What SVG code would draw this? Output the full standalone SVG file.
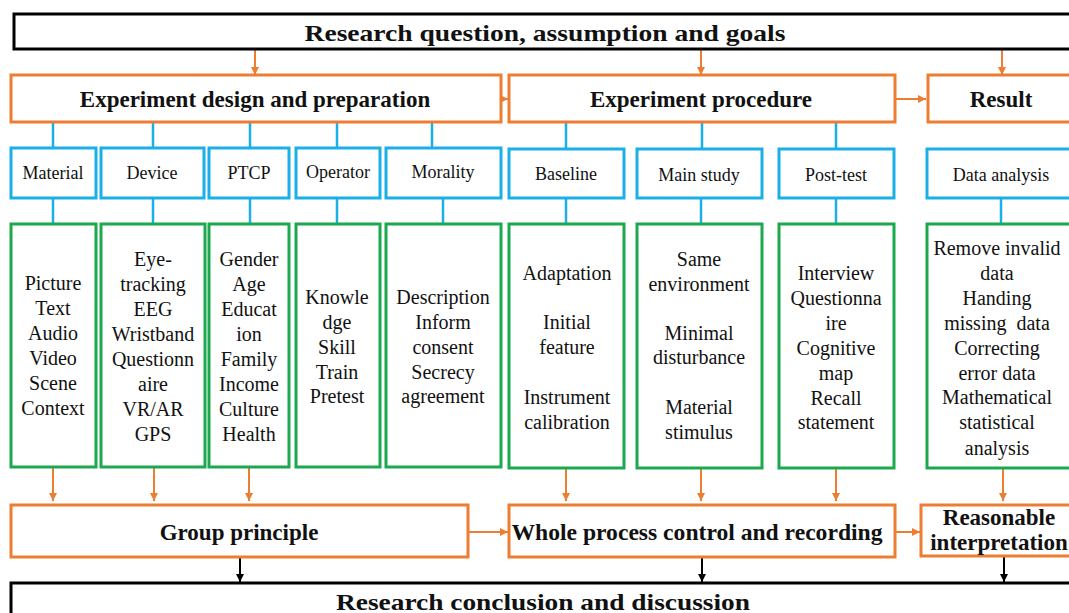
<svg xmlns="http://www.w3.org/2000/svg" width="1069" height="613" viewBox="0 0 1069 613">
<defs>
<style>
.bk{fill:#fff;stroke:#000;stroke-width:3}
.or{fill:#fff;stroke:#ED7D31;stroke-width:3}
.bl{fill:#fff;stroke:#1AAFE6;stroke-width:3}
.gr{fill:#fff;stroke:#1BA84F;stroke-width:3}
.h{font-family:"Liberation Serif","Times New Roman",serif;font-weight:bold;font-size:23px;fill:#111;text-anchor:middle}
.t{font-family:"Liberation Serif","Times New Roman",serif;font-size:20px;fill:#111;text-anchor:middle}
.s{font-family:"Liberation Serif","Times New Roman",serif;font-size:18px;fill:#111;text-anchor:middle}
.co{stroke:#ED7D31;stroke-width:2;fill:none}
.cb{stroke:#1AAFE6;stroke-width:2.5;fill:none}
.ck{stroke:#000;stroke-width:2;fill:none}
</style>
<marker id="ao" markerUnits="userSpaceOnUse" markerWidth="8" markerHeight="8" refX="8" refY="4" orient="auto"><path d="M0,0 L8,4 L0,8 z" fill="#ED7D31"/></marker>
<marker id="ak" markerUnits="userSpaceOnUse" markerWidth="8" markerHeight="8" refX="8" refY="4" orient="auto"><path d="M0,0 L8,4 L0,8 z" fill="#000"/></marker>
</defs>
<rect width="1069" height="613" fill="#fff"/>

<g id="connectors">
<line class="co" x1="255" y1="50" x2="255" y2="75" marker-end="url(#ao)"/>
<line class="co" x1="701" y1="50" x2="701" y2="75" marker-end="url(#ao)"/>
<line class="co" x1="1002" y1="50" x2="1002" y2="75" marker-end="url(#ao)"/>
<line class="co" x1="501" y1="99" x2="508" y2="99" marker-end="url(#ao)"/>
<line class="co" x1="895" y1="99" x2="926" y2="99" marker-end="url(#ao)"/>
<g class="cb">
<line x1="53" y1="122" x2="53" y2="148"/>
<line x1="153" y1="122" x2="153" y2="148"/>
<line x1="250" y1="122" x2="250" y2="148"/>
<line x1="337" y1="122" x2="337" y2="148"/>
<line x1="432" y1="122" x2="432" y2="148"/>
<line x1="566" y1="122" x2="566" y2="149"/>
<line x1="702" y1="122" x2="702" y2="149"/>
<line x1="836" y1="122" x2="836" y2="149"/>
<line x1="53" y1="198" x2="53" y2="224"/>
<line x1="153" y1="198" x2="153" y2="224"/>
<line x1="250" y1="198" x2="250" y2="224"/>
<line x1="337" y1="198" x2="337" y2="224"/>
<line x1="443" y1="198" x2="443" y2="224"/>
<line x1="566" y1="198" x2="566" y2="224"/>
<line x1="701" y1="198" x2="701" y2="224"/>
<line x1="836" y1="198" x2="836" y2="224"/>
<line x1="1001" y1="198" x2="1001" y2="224"/>
</g>
<line class="co" x1="53" y1="468" x2="53" y2="501" marker-end="url(#ao)"/>
<line class="co" x1="154" y1="468" x2="154" y2="501" marker-end="url(#ao)"/>
<line class="co" x1="249" y1="468" x2="249" y2="501" marker-end="url(#ao)"/>
<line class="co" x1="566" y1="468" x2="566" y2="501" marker-end="url(#ao)"/>
<line class="co" x1="701" y1="468" x2="701" y2="501" marker-end="url(#ao)"/>
<line class="co" x1="836" y1="468" x2="836" y2="501" marker-end="url(#ao)"/>
<line class="co" x1="1003" y1="468" x2="1003" y2="501" marker-end="url(#ao)"/>
<line class="co" x1="469" y1="532" x2="508" y2="532" marker-end="url(#ao)"/>
<line class="co" x1="895" y1="532" x2="920" y2="532" marker-end="url(#ao)"/>
<line class="ck" x1="240" y1="557" x2="240" y2="582" marker-end="url(#ak)"/>
<line class="ck" x1="702" y1="557" x2="702" y2="582" marker-end="url(#ak)"/>
<line class="ck" x1="1004" y1="556" x2="1004" y2="582" marker-end="url(#ak)"/>
</g>

<g id="n-top"><rect class="bk" x="14" y="14" width="1070" height="35"/><text class="h" x="545" y="41" font-size="25" textLength="481" lengthAdjust="spacingAndGlyphs">Research question, assumption and goals</text></g>

<g id="n-design"><rect class="or" x="11" y="75" width="490" height="47"/><text class="h" x="255" y="107">Experiment design and preparation</text></g>
<g id="n-procedure"><rect class="or" x="509" y="75" width="386" height="47"/><text class="h" x="701" y="107">Experiment procedure</text></g>
<g id="n-result"><rect class="or" x="928" y="75" width="150" height="47"/><text class="h" x="1001" y="107">Result</text></g>

<g id="n-material"><rect class="bl" x="11" y="148" width="85" height="50"/><text class="s" x="53" y="179">Material</text></g>
<g id="n-device"><rect class="bl" x="101" y="148" width="103" height="50"/><text class="s" x="152" y="179">Device</text></g>
<g id="n-ptcp"><rect class="bl" x="209" y="148" width="80" height="50"/><text class="s" x="249" y="179">PTCP</text></g>
<g id="n-operator"><rect class="bl" x="296" y="148" width="84" height="50"/><text class="s" x="338" y="178">Operator</text></g>
<g id="n-morality"><rect class="bl" x="386" y="148" width="115" height="50"/><text class="s" x="443" y="178">Morality</text></g>
<g id="n-baseline"><rect class="bl" x="509" y="149" width="115" height="49"/><text class="s" x="566" y="180">Baseline</text></g>
<g id="n-main"><rect class="bl" x="637" y="149" width="125" height="49"/><text class="s" x="699" y="181">Main study</text></g>
<g id="n-post"><rect class="bl" x="779" y="149" width="115" height="49"/><text class="s" x="836" y="181">Post-test</text></g>
<g id="n-data"><rect class="bl" x="927" y="149" width="150" height="49"/><text class="s" x="1001" y="181">Data analysis</text></g>

<g id="n-g1"><rect class="gr" x="11" y="224" width="85" height="243"/>
<text class="t" x="53" y="290">Picture</text><text class="t" x="53" y="315">Text</text><text class="t" x="53" y="340">Audio</text><text class="t" x="53" y="365">Video</text><text class="t" x="53" y="390">Scene</text><text class="t" x="53" y="415">Context</text></g>
<g id="n-g2"><rect class="gr" x="101" y="224" width="104" height="243"/>
<text class="t" x="153" y="266">Eye-</text><text class="t" x="153" y="291">tracking</text><text class="t" x="153" y="316">EEG</text><text class="t" x="153" y="341">Wristband</text><text class="t" x="153" y="366">Questionn</text><text class="t" x="153" y="391">aire</text><text class="t" x="153" y="416">VR/AR</text><text class="t" x="153" y="441">GPS</text></g>
<g id="n-g3"><rect class="gr" x="209" y="224" width="80" height="243"/>
<text class="t" x="249" y="266">Gender</text><text class="t" x="249" y="291">Age</text><text class="t" x="249" y="316">Educat</text><text class="t" x="249" y="341">ion</text><text class="t" x="249" y="366">Family</text><text class="t" x="249" y="391">Income</text><text class="t" x="249" y="416">Culture</text><text class="t" x="249" y="441">Health</text></g>
<g id="n-g4"><rect class="gr" x="296" y="224" width="84" height="243"/>
<text class="t" x="337" y="304">Knowle</text><text class="t" x="337" y="329">dge</text><text class="t" x="337" y="354">Skill</text><text class="t" x="337" y="379">Train</text><text class="t" x="337" y="403">Pretest</text></g>
<g id="n-g5"><rect class="gr" x="386" y="224" width="115" height="243"/>
<text class="t" x="443" y="304">Description</text><text class="t" x="443" y="329">Inform</text><text class="t" x="443" y="354">consent</text><text class="t" x="443" y="379">Secrecy</text><text class="t" x="443" y="403">agreement</text></g>
<g id="n-g6"><rect class="gr" x="509" y="224" width="115" height="244"/>
<text class="t" x="567" y="280">Adaptation</text><text class="t" x="567" y="329">Initial</text><text class="t" x="567" y="354">feature</text><text class="t" x="567" y="404">Instrument</text><text class="t" x="567" y="429">calibration</text></g>
<g id="n-g7"><rect class="gr" x="637" y="224" width="125" height="244"/>
<text class="t" x="699" y="266">Same</text><text class="t" x="699" y="291">environment</text><text class="t" x="699" y="340">Minimal</text><text class="t" x="699" y="364">disturbance</text><text class="t" x="699" y="414">Material</text><text class="t" x="699" y="439">stimulus</text></g>
<g id="n-g8"><rect class="gr" x="779" y="224" width="115" height="244"/>
<text class="t" x="836" y="280">Interview</text><text class="t" x="836" y="305">Questionna</text><text class="t" x="836" y="330">ire</text><text class="t" x="836" y="355">Cognitive</text><text class="t" x="836" y="380">map</text><text class="t" x="836" y="405">Recall</text><text class="t" x="836" y="429">statement</text></g>
<g id="n-g9"><rect class="gr" x="927" y="224" width="150" height="244"/>
<text class="t" x="997" y="255">Remove invalid</text><text class="t" x="997" y="280">data</text><text class="t" x="997" y="305">Handing</text><text class="t" x="997" y="330" xml:space="preserve">missing  data</text><text class="t" x="997" y="355">Correcting</text><text class="t" x="997" y="380">error data</text><text class="t" x="997" y="404">Mathematical</text><text class="t" x="997" y="429">statistical</text><text class="t" x="997" y="455">analysis</text></g>

<g id="n-group"><rect class="or" x="11" y="505" width="457" height="52"/><text class="h" x="239" y="540">Group principle</text></g>
<g id="n-whole"><rect class="or" x="509" y="505" width="386" height="52"/><text class="h" x="697" y="540" textLength="371" lengthAdjust="spacingAndGlyphs">Whole process control and recording</text></g>
<g id="n-reason"><rect class="or" x="921" y="505" width="160" height="51"/><text class="h" x="999" y="525">Reasonable</text><text class="h" x="999" y="550">interpretation</text></g>

<g id="n-bottom"><rect class="bk" x="11" y="583" width="1075" height="40"/><text class="h" x="543" y="610" font-size="25" textLength="414" lengthAdjust="spacingAndGlyphs">Research conclusion and discussion</text></g>
</svg>
